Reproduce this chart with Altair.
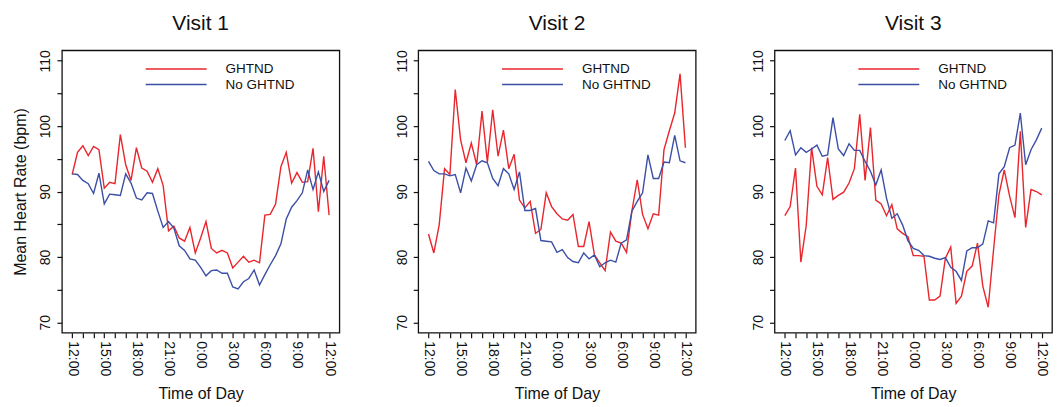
import altair as alt
import pandas as pd

FONT = "Liberation Sans"
RED = "#e8262c"
BLUE = "#3b4fa6"

# half-hour time grid, hours after 12:00 (noon)
hours = [0, 0.5, 1, 1.5, 2, 2.5, 3, 3.5, 4, 4.5, 5, 5.5, 6, 6.5, 7, 7.5,
         8, 8.5, 9, 9.5, 10, 10.5, 11, 11.5, 12, 12.5, 13, 13.5, 14, 14.5,
         15, 15.5, 16, 16.5, 17, 17.5, 18, 18.5, 19, 19.5, 20, 20.5, 21,
         21.5, 22, 22.5, 23, 23.5, 24]

groups = ["GHTND", "No GHTND"]
visits = ["Visit 1", "Visit 2", "Visit 3"]

v1_ghtnd = [92.6, 96.0, 97.0, 95.5, 96.9, 96.4, 90.5, 91.4, 91.2, 98.7, 94.1, 91.7,
            96.7, 93.6, 93.1, 91.4, 93.5, 90.9, 84.0, 84.7, 82.9, 82.4, 84.5, 80.6,
            82.9, 85.4, 81.3, 80.6, 81.0, 80.6, 78.3, 79.2, 80.1, 79.2, 79.5, 79.1,
            86.4, 86.5, 88.1, 93.8, 96.0, 91.3, 92.9, 91.4, 91.5, 96.6, 86.9, 95.4, 86.4]
v1_no = [92.7, 92.6, 91.7, 91.2, 89.7, 92.8, 88.1, 89.6, 89.5, 89.4, 92.7, 91.3,
         89.0, 88.7, 89.8, 89.7, 87.0, 84.5, 85.4, 84.4, 81.7, 81.0, 79.7, 79.5,
         78.4, 77.1, 77.9, 78.0, 77.5, 77.5, 75.4, 75.1, 76.2, 76.7, 78.0, 75.7,
         77.3, 78.8, 80.2, 82.0, 85.8, 87.6, 88.6, 89.8, 93.3, 90.3, 93.0, 90.0, 91.7]
v2_ghtnd = [83.5, 80.6, 84.9, 93.5, 92.6, 105.6, 97.9, 94.4, 97.4, 94.1, 102.3, 94.5,
            102.5, 95.4, 99.4, 93.5, 95.7, 88.7, 87.5, 88.5, 83.6, 84.2, 89.8, 87.7,
            86.6, 85.8, 85.6, 86.5, 81.6, 81.6, 85.4, 80.3, 79.1, 77.9, 83.8, 82.4,
            82.1, 80.7, 87.0, 91.8, 86.5, 84.3, 86.6, 86.4, 96.4, 99.3, 102.0, 108.0, 96.7]
v2_no = [94.6, 93.2, 92.7, 92.7, 92.4, 92.6, 89.8, 93.6, 91.6, 94.1, 94.7, 94.4,
         92.0, 90.9, 93.5, 92.7, 90.3, 93.0, 87.1, 87.1, 87.4, 82.5, 82.4, 82.3,
         80.7, 81.1, 79.9, 79.3, 79.1, 80.6, 79.7, 80.3, 78.5, 79.1, 79.5, 79.2,
         82.1, 82.6, 87.0, 88.5, 89.8, 95.6, 92.0, 92.0, 94.5, 94.4, 98.6, 94.7, 94.4]
v3_ghtnd = [86.3, 87.7, 93.6, 79.2, 84.8, 96.7, 90.8, 89.5, 95.2, 88.8, 89.4, 89.9,
            91.3, 93.5, 101.8, 91.7, 99.8, 88.7, 88.1, 86.3, 88.0, 84.3, 83.6, 83.1,
            80.2, 80.2, 80.1, 73.4, 73.4, 74.0, 79.8, 81.5, 72.9, 74.0, 77.8, 78.6,
            82.1, 75.5, 72.3, 81.1, 89.5, 93.3, 89.3, 86.0, 99.2, 84.5, 90.3, 90.0, 89.5]
v3_no = [97.8, 99.3, 95.6, 96.7, 96.0, 96.5, 97.1, 95.4, 95.6, 101.3, 96.5, 95.5,
         97.3, 96.3, 96.3, 94.6, 93.1, 91.0, 93.3, 89.0, 85.9, 86.6, 84.9, 82.5,
         81.3, 81.0, 80.2, 80.1, 79.8, 79.6, 79.9, 78.4, 77.8, 76.4, 80.9, 81.4,
         81.4, 82.0, 85.5, 85.2, 92.7, 93.8, 96.7, 97.1, 102.0, 94.1, 96.4, 97.9, 99.7]

series = {
    ("Visit 1", "GHTND"): v1_ghtnd, ("Visit 1", "No GHTND"): v1_no,
    ("Visit 2", "GHTND"): v2_ghtnd, ("Visit 2", "No GHTND"): v2_no,
    ("Visit 3", "GHTND"): v3_ghtnd, ("Visit 3", "No GHTND"): v3_no,
}

rows = []
for (visit, group), vals in series.items():
    for h, v in zip(hours, vals):
        rows.append({"visit": visit, "group": group, "hour": h, "hr": v})
df = pd.DataFrame(rows)

x_ticks = list(range(25))
y_ticks = [70, 75, 80, 85, 90, 95, 100, 105, 110]

W, H = 278, 283


def panel(visit, first):
    base = alt.Chart(df).transform_filter(alt.datum.visit == visit)
    x = alt.X(
        "hour:Q",
        scale=alt.Scale(domain=[-0.96, 24.96], nice=False, zero=False),
        axis=alt.Axis(
            values=x_ticks,
            labelExpr="datum.value % 3 == 0 ? ((datum.value + 12) % 24) + ':00' : ''",
            labelAngle=90, labelAlign="left", labelBaseline="middle",
            labelPadding=3, tickSize=5, tickColor="#111", tickWidth=1.2,
            domain=False, grid=False, title="Time of Day",
            titleFontSize=16, titleFontWeight="normal", titlePadding=10,
            labelFontSize=14, labelColor="#111", titleColor="#111",
            labelFont=FONT, titleFont=FONT, labelFlush=False, labelOverlap=False,
        ),
    )
    yaxis = dict(
        values=y_ticks,
        labelExpr="datum.value % 10 == 0 ? datum.label : ''",
        labelAngle=-90, labelAlign="center", labelBaseline="bottom",
        labelPadding=4, tickSize=5, tickColor="#111", tickWidth=1.2,
        domain=False, grid=False, labelFontSize=14, labelColor="#111",
        labelFont=FONT, labelFlush=False, labelOverlap=False,
    )
    if first:
        yaxis.update(title="Mean Heart Rate (bpm)", titleFontSize=16,
                     titleFontWeight="normal", titleFont=FONT, titleColor="#111",
                     titlePadding=10)
    else:
        yaxis.update(title=None)
    y = alt.Y("hr:Q", scale=alt.Scale(domain=[68.4, 111.6], nice=False, zero=False),
              axis=alt.Axis(**yaxis))
    lines = base.mark_line(strokeWidth=1.4).encode(
        x=x, y=y,
        color=alt.Color("group:N", scale=alt.Scale(domain=groups, range=[RED, BLUE]),
                        legend=None),
        detail="group:N",
    )
    layers = [lines]
    for lab, col, ypx in zip(groups, [RED, BLUE], [18.7, 34.3]):
        one = pd.DataFrame({"label": [lab]})
        layers.append(alt.Chart(one).mark_rule(color=col, strokeWidth=1.4).encode(
            x=alt.value(84), x2=alt.value(145), y=alt.value(ypx)))
        layers.append(alt.Chart(one).mark_text(
            align="left", baseline="middle", fontSize=13.5, font=FONT, color="#111"
        ).encode(x=alt.value(164), y=alt.value(ypx), text="label:N"))
    return alt.layer(*layers).properties(
        width=W, height=H,
        title=alt.TitleParams(visit, fontSize=21, font=FONT, fontWeight="normal",
                              anchor="middle", frame="group", color="#111", offset=16),
    )


chart = alt.hconcat(
    panel("Visit 1", True), panel("Visit 2", False), panel("Visit 3", False),
    spacing=54,
).properties(padding={"left": 4, "top": 3, "right": 0, "bottom": 0}).configure_view(
    stroke="#111", strokeWidth=1.3
)

chart.save("out.html", embed_options={"renderer": "svg", "actions": False})
